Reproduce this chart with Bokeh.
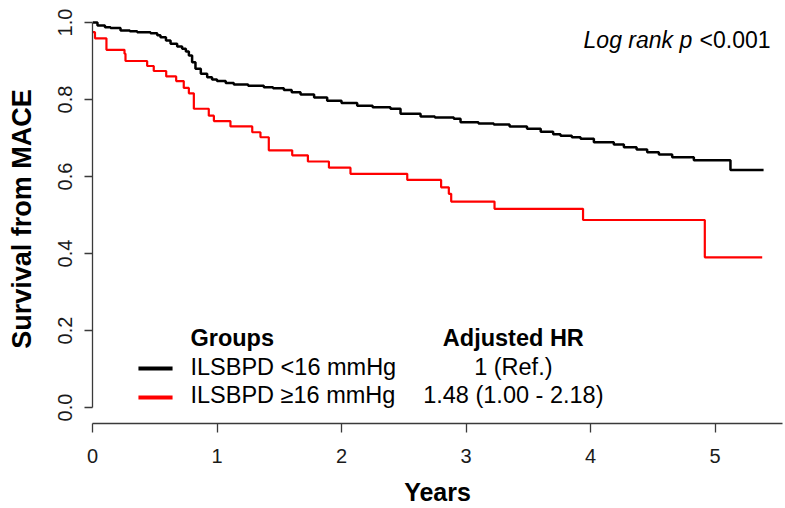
from bokeh.plotting import figure
from bokeh.models import ColumnDataSource, FixedTicker, Range1d, Label, NumeralTickFormatter
from bokeh.embed import file_html
from bokeh.resources import INLINE

# ---- data ----
year_ticks = [0, 1, 2, 3, 4, 5]
surv_ticks = [0.0, 0.2, 0.4, 0.6, 0.8, 1.0]

black_t = [0, 0.04, 0.10, 0.145, 0.225, 0.30, 0.359, 0.466, 0.52, 0.546, 0.59, 0.627, 0.68,
           0.72, 0.75, 0.774, 0.80, 0.827, 0.87, 0.921, 0.96, 1.0, 1.07, 1.135, 1.25, 1.376,
           1.45, 1.537, 1.60, 1.671, 1.78, 1.885, 2.0, 2.126, 2.25, 2.393, 2.474, 2.635, 2.75,
           2.902, 2.956, 3.1, 3.223, 3.35, 3.49, 3.6, 3.70, 3.759, 3.85, 3.92, 4.027, 4.187,
           4.268, 4.37, 4.455, 4.549, 4.656, 4.83, 5.124, 5.39]
black_s = [1.0, 0.992, 0.988, 0.986, 0.979, 0.977, 0.975, 0.972, 0.967, 0.962, 0.953, 0.945, 0.938,
           0.932, 0.925, 0.914, 0.897, 0.880, 0.867, 0.858, 0.852, 0.848, 0.843, 0.839, 0.836, 0.832,
           0.829, 0.825, 0.819, 0.813, 0.805, 0.797, 0.791, 0.784, 0.780, 0.776, 0.763, 0.756, 0.753,
           0.750, 0.741, 0.738, 0.735, 0.730, 0.724, 0.716, 0.710, 0.706, 0.702, 0.698, 0.689, 0.683,
           0.676, 0.670, 0.663, 0.657, 0.650, 0.642, 0.617, 0.617]

red_t = [0, 0.02, 0.112, 0.257, 0.265, 0.439, 0.492, 0.592, 0.672, 0.733, 0.774, 0.814, 0.934,
         0.975, 1.108, 1.283, 1.349, 1.416, 1.604, 1.73, 1.899, 2.072, 2.528, 2.8, 2.862, 2.881,
         3.229, 3.94, 4.918, 5.379]
red_s = [0.975, 0.959, 0.929, 0.919, 0.900, 0.887, 0.874, 0.860, 0.848, 0.830, 0.816, 0.776, 0.758,
         0.744, 0.730, 0.715, 0.702, 0.668, 0.655, 0.639, 0.623, 0.607, 0.591, 0.572, 0.555, 0.535,
         0.516, 0.487, 0.390, 0.390]

group_labels = ["ILSBPD <16 mmHg", "ILSBPD \u226516 mmHg"]
hr_labels = ["1 (Ref.)", "1.48 (1.00 - 2.18)"]
group_colors = ["#000000", "#ff0000"]

FONT = "Liberation Sans"

W, H = 785, 508
p = figure(width=W, height=H, output_backend="svg", toolbar_location=None,
           x_range=Range1d(0, 5.542), y_range=Range1d(-0.04156, 1.0208),
           min_border_left=92, min_border_right=3, min_border_top=14, min_border_bottom=85)

p.outline_line_color = None
p.grid.visible = False
p.background_fill_color = "white"
p.border_fill_color = "white"

# axes
p.xaxis.ticker = FixedTicker(ticks=year_ticks)
p.yaxis.ticker = FixedTicker(ticks=surv_ticks)
p.yaxis.formatter = NumeralTickFormatter(format="0.0")
p.yaxis.bounds = (0, 1)
p.yaxis.major_label_orientation = "vertical"
for ax in (p.xaxis[0], p.yaxis[0]):
    ax.minor_tick_line_color = None
    ax.major_tick_in = 0
    ax.axis_line_color = "#3a3a3a"
    ax.axis_line_width = 1.3
    ax.major_tick_line_color = "#3a3a3a"
    ax.major_tick_line_width = 1.3
    ax.major_label_text_font = FONT
    ax.major_label_text_font_size = "20px"
    ax.major_label_text_color = "#1a1a1a"
    ax.axis_label_text_font = FONT
    ax.axis_label_text_font_style = "bold"
    ax.axis_label_text_color = "#000000"
p.xaxis.major_tick_out = 9
p.yaxis.major_tick_out = 8
p.xaxis.major_label_standoff = 16
p.yaxis.major_label_standoff = 12
p.xaxis.axis_label = "Years"
p.yaxis.axis_label = "Survival from MACE"
p.xaxis.axis_label_text_font_size = "25px"
p.yaxis.axis_label_text_font_size = "27px"
p.xaxis.axis_label_standoff = 12
p.yaxis.axis_label_standoff = 19

# curves
src_black = ColumnDataSource(dict(t=black_t, s=black_s))
src_red = ColumnDataSource(dict(t=red_t, s=red_s))
p.step(x="t", y="s", source=src_black, mode="after", line_color=group_colors[0], line_width=2.5)
p.step(x="t", y="s", source=src_red, mode="after", line_color=group_colors[1], line_width=2.2)

# log-rank annotation
p.add_layout(Label(x=4.817, y=0.922, text="Log rank p", text_align="right",
                   text_font=FONT, text_font_style="italic", text_font_size="23px",
                   text_color="#000000"))
p.add_layout(Label(x=5.446, y=0.922, text="<0.001", text_align="right",
                   text_font=FONT, text_font_size="23px", text_color="#000000"))

# legend block
key_x0, key_x1 = 0.369, 0.643
text_x = 0.787
hr_x = 3.38
row_base = [0.071, -0.002]
row_mid = [0.101, 0.026]
p.add_layout(Label(x=text_x, y=0.147, text="Groups", text_font=FONT, text_font_style="bold",
                   text_font_size="23.5px", text_color="#000000"))
p.add_layout(Label(x=hr_x, y=0.147, text="Adjusted HR", text_align="center", text_font=FONT,
                   text_font_style="bold", text_font_size="23.5px", text_color="#000000"))
for i in range(2):
    p.line(x=[key_x0, key_x1], y=[row_mid[i], row_mid[i]], line_color=group_colors[i], line_width=4)
    p.add_layout(Label(x=text_x, y=row_base[i], text=group_labels[i], text_font=FONT,
                       text_font_size="23.5px", text_color="#000000"))
    p.add_layout(Label(x=hr_x, y=row_base[i], text=hr_labels[i], text_align="center",
                       text_font=FONT, text_font_size="23.5px", text_color="#000000"))

open("out.html", "w").write(file_html(p, INLINE))
